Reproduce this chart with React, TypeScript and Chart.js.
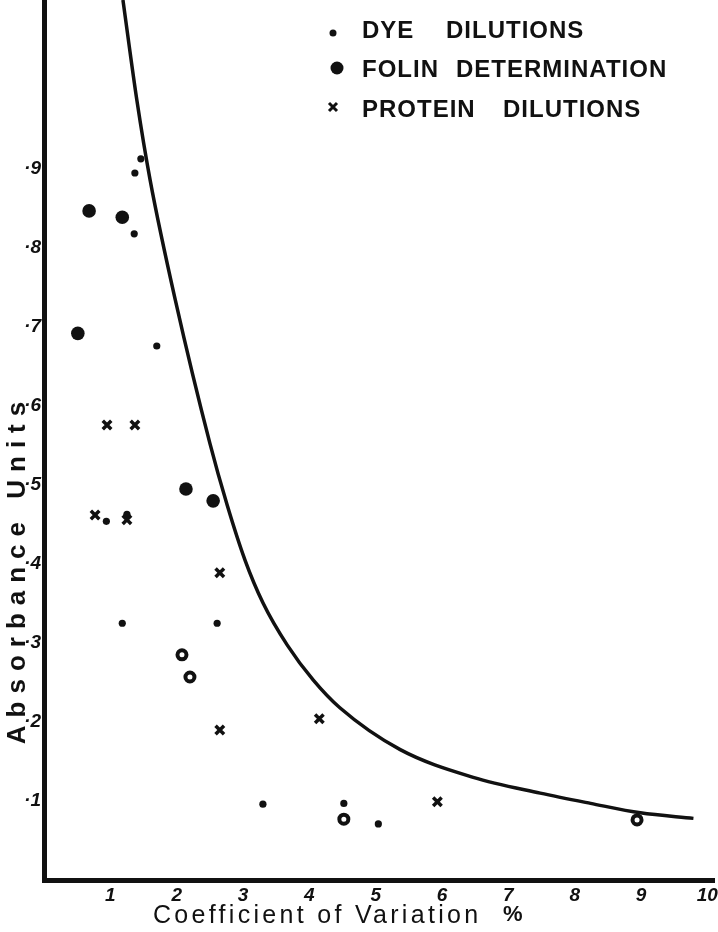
import React, { useEffect, useRef } from 'react';
import { Chart, registerables } from 'chart.js';

Chart.register(...registerables);

// ---- tick values / labels ----
const xTickValues = [1, 2, 3, 4, 5, 6, 7, 8, 9, 10];
const xTickLabels = ['1', '2', '3', '4', '5', '6', '7', '8', '9', '10'];
const yTickValues = [0.1, 0.2, 0.3, 0.4, 0.5, 0.6, 0.7, 0.8, 0.9];
const yTickLabels = ['·1', '·2', '·3', '·4', '·5', '·6', '·7', '·8', '·9'];

// ---- series: Dye dilutions (small dots) ----
const dyeX = [1.37, 1.46, 1.36, 1.70, 0.94, 1.25, 1.18, 2.61, 3.30, 4.52, 5.04];
const dyeY = [0.895, 0.913, 0.818, 0.676, 0.454, 0.463, 0.325, 0.325, 0.096, 0.097, 0.071];

// ---- series: Folin determination (large dots) ----
const folinX = [0.68, 1.18, 0.51, 2.14, 2.55];
const folinY = [0.847, 0.839, 0.692, 0.495, 0.480];

// Folin determination points drawn as open circles
const folinRingX = [2.08, 2.20, 4.52, 8.94];
const folinRingY = [0.285, 0.257, 0.077, 0.076];

// ---- series: Protein dilutions (crosses) ----
const proteinX = [0.95, 1.37, 0.77, 1.25, 2.65, 2.65, 4.15, 5.93];
const proteinY = [0.576, 0.576, 0.462, 0.456, 0.389, 0.190, 0.204, 0.099];

// ---- drawn curve ----
const curveX = [1.19, 1.40, 1.60, 1.98, 2.50, 2.76, 3.03, 3.30, 3.67, 4.06, 4.46, 5.37, 6.47, 7.48, 8.24, 8.99, 9.79];
const curveY = [1.114, 0.987, 0.886, 0.734, 0.553, 0.475, 0.405, 0.351, 0.297, 0.253, 0.218, 0.165, 0.130, 0.110, 0.097, 0.085, 0.078];

const legendLabels = ['DYE', 'DILUTIONS', 'FOLIN', 'DETERMINATION', 'PROTEIN', 'DILUTIONS'];
const xTitle = 'Coefficient of Variation';
const xTitleUnit = '%';
const yTitle = 'Absorbance Units';

const INK = '#111';

const pts = (xs: number[], ys: number[]) => xs.map((x, i) => ({ x, y: ys[i] }));

const annotate = {
  id: 'annotate',
  afterDraw(chart: any) {
    const ctx: CanvasRenderingContext2D = chart.ctx;
    ctx.save();
    ctx.fillStyle = INK;
    ctx.strokeStyle = INK;

    // legend
    ctx.font = 'bold 24px "Liberation Sans", Arial, sans-serif';
    ctx.textBaseline = 'alphabetic';
    ctx.textAlign = 'left';
    (ctx as any).letterSpacing = '1px';
    // row 1: small dot
    ctx.beginPath();
    ctx.arc(333, 33, 3.5, 0, Math.PI * 2);
    ctx.fill();
    ctx.fillText(legendLabels[0], 362, 38);
    ctx.fillText(legendLabels[1], 446, 38);
    // row 2: big dot
    ctx.beginPath();
    ctx.arc(337, 68, 6.5, 0, Math.PI * 2);
    ctx.fill();
    ctx.fillText(legendLabels[2], 362, 77);
    ctx.fillText(legendLabels[3], 456, 77);
    // row 3: cross
    ctx.lineWidth = 3;
    ctx.beginPath();
    ctx.moveTo(329, 103); ctx.lineTo(337, 111);
    ctx.moveTo(337, 103); ctx.lineTo(329, 111);
    ctx.stroke();
    ctx.fillText(legendLabels[4], 362, 117);
    ctx.fillText(legendLabels[5], 503, 117);

    // x title
    ctx.font = '25px "Liberation Sans", Arial, sans-serif';
    (ctx as any).letterSpacing = '3.3px';
    ctx.textBaseline = 'middle';
    ctx.fillText(xTitle, 153, 916);
    ctx.font = 'bold 22px "Liberation Sans", Arial, sans-serif';
    (ctx as any).letterSpacing = '0px';
    ctx.fillText(xTitleUnit, 503, 915);

    // y title
    ctx.translate(18, 569);
    ctx.rotate(-Math.PI / 2);
    ctx.font = 'bold 26px "Liberation Sans", Arial, sans-serif';
    (ctx as any).letterSpacing = '8px';
    ctx.textAlign = 'center';
    ctx.textBaseline = 'middle';
    ctx.fillText(yTitle, 0, 0);

    ctx.restore();
  },
};

export default function App() {
  const ref = useRef<HTMLCanvasElement | null>(null);

  useEffect(() => {
    if (!ref.current) return;
    const tickFont = { family: '"Liberation Sans", Arial, sans-serif', size: 19, weight: 'bold' as const, style: 'italic' as const };
    const chart = new Chart(ref.current, {
      type: 'scatter',
      data: {
        datasets: [
          {
            label: 'DYE DILUTIONS',
            data: pts(dyeX, dyeY),
            pointStyle: 'circle',
            pointRadius: 3.6,
            backgroundColor: INK,
            borderWidth: 0,
          },
          {
            label: 'FOLIN DETERMINATION',
            data: pts(folinX, folinY),
            pointStyle: 'circle',
            pointRadius: 6.8,
            backgroundColor: INK,
            borderWidth: 0,
          },
          {
            label: 'PROTEIN DILUTIONS',
            data: pts(proteinX, proteinY),
            pointStyle: 'crossRot',
            pointRadius: 6,
            borderColor: INK,
            borderWidth: 3.5,
          },
          {
            label: 'FOLIN (open)',
            data: pts(folinRingX, folinRingY),
            pointStyle: 'circle',
            pointRadius: 4.5,
            backgroundColor: '#fff',
            borderColor: INK,
            borderWidth: 4,
          },
          {
            label: 'curve',
            data: pts(curveX, curveY),
            showLine: true,
            pointRadius: 0,
            borderColor: INK,
            borderWidth: 3.5,
            cubicInterpolationMode: 'monotone',
          } as any,
        ],
      },
      options: {
        responsive: false,
        animation: false,
        events: [],
        layout: { autoPadding: false, padding: { left: 0, right: 4, top: 0, bottom: 0 } },
        plugins: { legend: { display: false }, tooltip: { enabled: false } },
        scales: {
          x: {
            type: 'linear',
            min: 0,
            max: 10.1,
            afterBuildTicks: (s: any) => { s.ticks = xTickValues.map((v) => ({ value: v })); },
            afterFit: (s: any) => {
              s.height = 52;
              s.paddingLeft = 0; s.paddingRight = 0; s.paddingTop = 0; s.paddingBottom = 0;
            },
            ticks: {
              autoSkip: false,
              maxRotation: 0,
              padding: 4,
              color: INK,
              font: tickFont,
              callback: (_v: any, i: number) => xTickLabels[i],
            },
            grid: { display: false, drawTicks: false },
            border: { display: true, color: INK, width: 5 },
          },
          y: {
            type: 'linear',
            min: 0,
            max: 1.114,
            afterBuildTicks: (s: any) => { s.ticks = yTickValues.map((v) => ({ value: v })); },
            afterFit: (s: any) => {
              s.width = 44;
              s.paddingLeft = 0; s.paddingRight = 0; s.paddingTop = 0; s.paddingBottom = 0;
            },
            ticks: {
              autoSkip: false,
              padding: 3,
              color: INK,
              font: tickFont,
              callback: (_v: any, i: number) => yTickLabels[i],
            },
            grid: { display: false, drawTicks: false },
            border: { display: true, color: INK, width: 5 },
          },
        },
      },
      plugins: [annotate],
    });
    return () => chart.destroy();
  }, []);

  return (
    <div style={{ position: 'fixed', left: 0, top: 0, width: 718, height: 932, background: '#fff' }}>
      <canvas ref={ref} width={718} height={932} style={{ display: 'block' }} />
    </div>
  );
}
